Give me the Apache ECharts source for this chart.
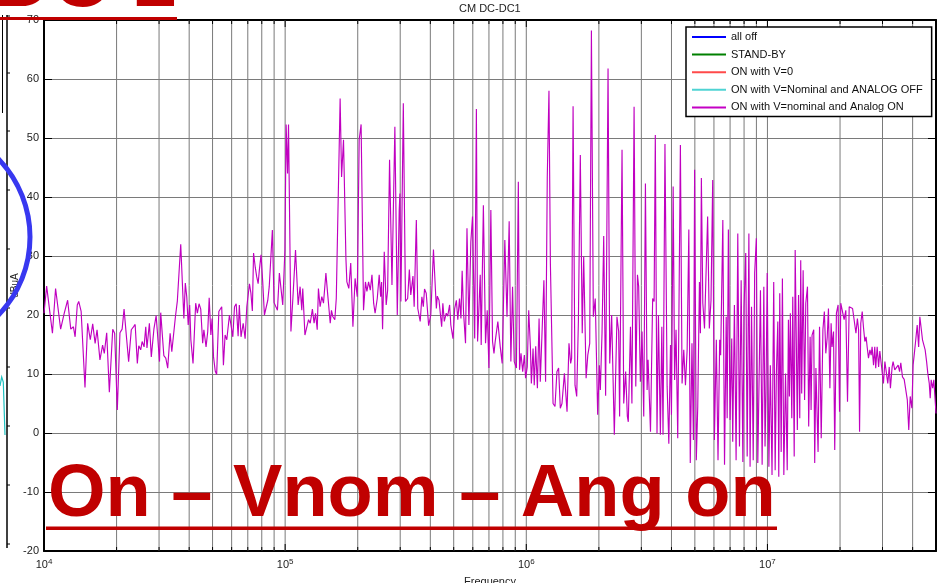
<!DOCTYPE html>
<html><head><meta charset="utf-8">
<script src="https://cdn.jsdelivr.net/npm/echarts@6/dist/echarts.min.js"></script>
<style>html,body{margin:0;padding:0;background:#fff;overflow:hidden}#c{width:947px;height:583px}</style>
</head><body><div id="c"></div>
<script>
const chartTitle = 'CM DC-DC1';
const xAxisName = 'Frequency';
const yAxisName = 'dBuA';
const seriesNames = ['all off', 'STAND-BY', 'ON with V=0', 'ON with V=Nominal and ANALOG OFF', 'ON with V=nominal and Analog ON'];
const seriesColors = ['#0000ff', '#008000', '#ff4a4a', '#4fd3d3', '#c400c4'];
const yMin = -20, yMax = 70, yStep = 10;
const xMin = 1e4, xMax = 5e7;
const xGridFreqs = [2e4,3e4,4e4,5e4,6e4,7e4,8e4,9e4,1e5,2e5,3e5,4e5,5e5,6e5,7e5,8e5,9e5,1e6,2e6,3e6,4e6,5e6,6e6,7e6,8e6,9e6,1e7,2e7,3e7,4e7];
const majorFreqs = [1e5, 1e6, 1e7];
const overlayTop = 'DC 1';
const overlayBottom = 'On \u2013 Vnom \u2013 Ang on';

// log10 of frequency (Hz)
const freqExponent = [
4.000,4.011,4.017,4.035,4.048,4.069,4.084,4.090,4.098,4.104,4.111,4.122,4.129,4.138,4.144,4.154,4.170,4.181,4.187,4.192,
4.202,4.212,4.220,4.232,4.243,4.250,4.260,4.271,4.285,4.293,4.304,4.315,4.324,4.332,4.336,4.343,4.351,4.362,4.371,4.378,
4.387,4.393,4.401,4.407,4.415,4.422,4.427,4.437,4.445,4.456,4.465,4.470,4.479,4.484,4.490,4.497,4.505,4.513,4.523,4.530,
4.537,4.545,4.553,4.560,4.567,4.574,4.580,4.586,4.592,4.598,4.604,4.609,4.618,4.629,4.636,4.643,4.650,4.658,4.663,4.672,
4.679,4.685,4.692,4.697,4.703,4.710,4.716,4.725,4.730,4.737,4.744,4.751,4.758,4.769,4.777,4.783,4.790,4.797,4.805,4.810,
4.817,4.826,4.834,4.841,4.852,4.858,4.864,4.869,4.876,4.882,4.888,4.893,4.900,4.907,4.914,4.921,4.928,4.934,4.941,4.947,
4.954,4.961,4.968,4.976,4.982,4.990,4.999,5.004,5.010,5.014,5.024,5.032,5.043,5.048,5.054,5.062,
5.069,5.073,5.082,5.090,5.097,5.104,5.113,5.120,5.126,5.133,5.138,5.145,5.152,5.159,5.169,5.176,5.187,5.192,5.198,5.206,
5.212,5.217,5.228,5.234,5.242,5.252,5.256,5.264,5.272,5.281,5.290,5.299,5.307,5.315,5.325,5.333,5.339,5.346,5.353,5.360,
5.367,5.373,5.382,5.390,5.396,5.400,5.404,5.411,5.419,5.425,5.433,5.443,5.455,5.465,5.473,5.476,5.480,5.490,5.499,5.508,
5.515,5.521,5.530,5.535,5.544,5.550,5.560,5.567,5.573,5.578,5.585,5.595,5.604,5.615,5.627,5.631,5.638,5.649,5.654,5.660,
5.668,5.674,5.682,5.687,5.696,5.703,5.710,5.716,5.723,5.729,5.734,5.740,5.748,5.754,5.762,5.770,5.777,5.786,5.793,5.798,
5.809,5.813,5.822,5.831,5.838,5.845,5.853,5.860,5.866,5.871,5.877,5.882,5.892,5.900,5.911,5.920,5.929,5.936,5.943,5.950,
5.959,5.967,5.972,5.978,5.985,5.992,5.997,6.004,6.010,6.017,6.021,6.028,6.033,6.039,6.046,6.053,6.058,6.064,6.073,6.080,
6.087,6.094,6.100,6.111,6.119,6.127,6.134,6.141,6.148,6.158,6.169,6.177,6.184,6.188,6.194,6.202,6.209,6.216,6.224,6.232,
6.238,6.248,6.255,6.263,6.270,
6.278,6.286,6.296,6.303,6.307,6.314,6.321,6.329,6.339,6.346,6.354,6.360,6.365,6.376,6.383,6.387,6.397,6.404,6.412,6.419,
6.423,6.432,6.438,6.447,6.454,6.461,6.466,6.473,6.480,6.487,6.494,6.501,6.505,6.515,6.524,6.530,6.535,6.542,6.548,6.556,
6.562,6.567,6.575,6.584,6.591,6.598,6.602,6.609,6.615,6.621,6.628,6.632,6.639,6.646,6.653,6.660,6.667,6.674,6.680,6.687,
6.693,6.698,6.705,6.711,6.718,6.722,6.726,6.732,6.739,6.746,6.752,6.759,6.766,6.773,6.780,6.788,6.795,6.802,6.806,6.815,
6.822,6.829,6.833,6.838,6.845,6.852,6.856,6.863,6.870,6.877,6.884,6.891,6.898,6.903,6.910,6.916,6.923,6.928,6.934,6.941,
6.947,6.954,6.960,
6.971,6.978,6.985,6.990,6.994,6.999,7.006,7.012,7.019,7.026,7.032,7.037,7.043,7.047,7.051,7.057,7.062,7.068,7.075,7.082,
7.087,7.091,7.095,7.101,7.105,7.111,7.115,7.120,7.124,7.129,7.134,7.138,7.142,7.148,7.154,7.159,7.166,7.171,7.177,7.181,
7.185,7.192,7.196,7.201,7.206,7.210,7.216,7.223,7.230,7.236,7.242,7.248,7.253,7.259,7.264,7.268,7.274,7.279,7.286,7.293,
7.299,7.304,7.311,7.318,7.325,7.332,7.339,7.344,7.353,7.361,7.367,7.373,7.378,7.382,7.387,7.393,7.398,7.404,7.409,7.414,
7.419,7.425,7.430,7.434,7.440,7.445,7.449,7.455,7.461,7.466,7.474,7.481,7.487,7.494,7.499,7.505,7.510,7.517,7.521,7.528,
7.535,7.542,7.548,7.553,7.560,7.567,7.574,7.580,7.586,7.592,7.599,7.604,7.610,7.615,7.621,7.627,7.632,7.638,7.643,7.649,
7.654,7.660,7.665,7.671,7.675,7.679,7.685,7.690,7.694,7.699
];
// level in dBuA
const levelDbuA = [
20.3,24.9,24.8,16.9,24.5,17.6,20.3,20.0,22.5,22.5,17.6,18.0,16.3,21.7,22.3,20.6,7.7,18.6,18.5,15.8,
18.5,15.2,17.5,12.4,14.9,13.5,17.0,6.9,17.6,16.9,3.9,17.0,17.6,21.0,21.1,15.8,12.1,17.5,18.0,18.4,
11.8,14.8,14.1,15.5,14.6,18.0,14.4,18.6,12.9,17.7,19.9,17.2,12.1,20.4,20.3,13.1,12.7,11.0,16.9,13.8,
13.9,19.7,22.4,22.4,32.0,32.0,19.4,25.4,23.1,18.3,21.7,15.8,11.8,22.0,20.3,21.9,21.0,15.2,17.5,14.6,
17.2,22.9,16.6,19.4,12.9,10.5,9.9,20.6,20.3,21.4,11.5,16.6,15.8,20.0,19.7,16.3,21.4,21.9,16.4,21.7,
16.3,18.6,16.0,21.4,25.3,23.7,20.7,30.5,28.1,26.5,25.3,27.6,30.2,25.6,20.0,20.0,22.5,24.8,24.7,34.4,
22.1,22.3,20.8,27.1,26.8,21.7,31.0,52.3,44.0,52.3,17.2,22.8,31.0,31.0,21.7,24.8,
20.8,24.5,16.6,18.0,19.2,18.6,21.0,18.6,20.3,17.5,24.5,21.4,23.1,22.0,27.1,23.7,18.6,20.8,19.7,19.2,
22.8,23.1,56.7,43.4,49.7,29.6,25.6,24.5,28.8,18.0,26.2,23.1,49.7,52.3,20.8,25.6,24.0,25.6,24.2,26.8,
22.0,20.3,22.8,26.8,23.1,25.6,17.6,30.7,21.7,24.2,46.3,25.1,51.9,20.0,37.8,40.6,22.3,55.9,22.3,22.8,
27.7,23.4,26.6,21.4,36.1,21.1,18.9,23.1,21.4,24.4,23.7,18.2,20.0,31.1,21.1,23.2,22.5,18.0,22.0,18.9,
20.3,19.8,21.7,18.3,16.0,21.1,22.5,19.2,22.8,19.4,27.5,20.3,15.2,34.7,18.3,32.4,36.7,16.0,54.9,15.5,
26.8,14.9,38.6,15.2,20.8,11.0,37.8,15.5,13.5,15.5,15.5,18.9,14.6,11.8,32.7,19.7,35.9,12.1,24.8,12.1,
11.0,42.6,10.7,13.5,10.4,13.2,9.3,11.2,20.8,14.6,8.4,14.3,8.1,14.7,7.6,19.4,8.7,8.7,25.9,8.7,
43.4,58.0,28.5,5.0,4.5,10.4,11.0,4.2,5.0,10.1,3.6,15.2,11.8,12.7,55.4,8.1,6.2,18.9,47.1,16.9,
29.9,9.3,13.2,15.2,68.2,
19.7,22.8,3.1,11.5,7.3,16.9,33.4,6.3,61.8,11.8,20.0,20.0,-0.3,19.7,17.2,2.8,48.0,5.0,10.4,2.8,
1.9,18.0,5.0,55.3,7.9,26.8,24.8,8.7,17.2,2.8,42.3,7.3,12.4,0.2,22.8,22.3,50.5,-0.1,20.0,-0.3,
18.0,-0.3,49.0,7.9,-1.8,14.9,3.1,41.8,9.0,17.5,-0.9,15.8,48.8,8.4,14.1,8.1,14.1,34.5,-5.1,15.2,
-1.2,44.6,-4.6,4.5,25.6,16.9,43.2,22.0,17.7,18.0,36.7,17.7,22.5,42.9,-1.2,15.8,-4.6,15.8,13.2,36.1,
-5.4,19.7,2.5,34.5,2.2,16.0,-1.5,21.7,-4.6,33.8,-2.3,25.9,-4.9,21.4,30.5,-4.0,33.8,-5.7,21.4,-4.6,
27.1,33.0,-5.1,
24.2,-5.4,24.8,-2.3,7.0,27.1,-5.7,11.5,-7.1,25.6,-6.3,10.1,18.9,-7.4,23.7,-3.2,26.2,-7.1,10.1,-6.3,
19.2,6.2,20.3,2.5,23.1,-4.0,31.0,14.6,0.5,23.4,2.5,29.3,6.7,27.6,5.6,22.0,24.8,1.1,16.3,3.9,
16.6,17.5,-5.1,11.0,10.7,-3.2,18.0,-0.9,17.5,20.6,13.5,16.3,21.1,7.6,18.6,14.6,17.2,-2.9,20.3,21.7,
3.6,22.0,22.0,19.2,20.8,5.3,21.4,21.4,21.1,21.0,16.9,19.4,17.5,0.2,18.6,20.6,18.0,15.5,16.3,14.4,
12.7,14.1,13.2,14.6,11.5,14.6,11.0,14.6,11.2,13.9,13.9,8.4,12.1,12.4,8.4,11.2,7.6,11.2,12.1,10.7,
10.7,11.5,10.4,11.9,9.5,9.1,9.1,5.6,0.5,6.2,4.2,11.5,13.8,15.8,18.3,14.6,19.7,19.4,15.8,16.0,
14.1,12.1,10.1,8.4,5.9,9.0,7.6,9.0,8.7,3.3
];

const FONT = '"Liberation Sans", Arial, Helvetica, sans-serif';
const gridColor = '#7a7a7a';
const measured = freqExponent.map((e, i) => [Math.pow(10, e), levelDbuA[i]]);

function isDecade(v) {
  const l = Math.log10(v);
  return Math.abs(l - Math.round(l)) < 1e-6;
}

const chart = echarts.init(document.getElementById('c'), null, {renderer: 'canvas'});

const series = seriesNames.map((name, i) => ({
  name: name,
  type: 'line',
  data: i === seriesNames.length - 1 ? measured : [],
  showSymbol: false,
  symbol: 'none',
  color: seriesColors[i],
  lineStyle: {width: 1.15, color: i === seriesNames.length - 1 ? '#c000c0' : seriesColors[i]},
  animation: false,
  silent: true,
  z: 3
}));

series.push({
  name: 'xgrid',
  type: 'custom',
  silent: true,
  animation: false,
  z: 1,
  data: xGridFreqs.map(f => [f, 0]),
  renderItem: function (params, api) {
    const f = api.value(0);
    const top = api.coord([f, yMax]);
    const bot = api.coord([f, yMin]);
    const len = majorFreqs.indexOf(f) >= 0 ? 7 : 4;
    return {
      type: 'group',
      children: [
        {type: 'line', shape: {x1: top[0], y1: top[1], x2: bot[0], y2: bot[1]}, style: {stroke: gridColor, lineWidth: 1}},
        {type: 'line', shape: {x1: bot[0], y1: bot[1], x2: bot[0], y2: bot[1] - len}, style: {stroke: '#000', lineWidth: 1}},
        {type: 'line', shape: {x1: top[0], y1: top[1], x2: top[0], y2: top[1] + len}, style: {stroke: '#000', lineWidth: 1}}
      ]
    };
  }
});

const option = {
  backgroundColor: '#fff',
  animation: false,
  title: {
    text: chartTitle, left: 459, top: 3, padding: 0,
    textStyle: {fontFamily: FONT, fontSize: 11, fontWeight: 'normal', color: '#222'}
  },
  legend: {
    data: seriesNames,
    orient: 'vertical',
    left: 686, top: 27,
    padding: [3, 9, 2, 6],
    itemGap: 3.6,
    itemWidth: 34, itemHeight: 2,
    icon: 'rect',
    backgroundColor: '#fff',
    borderColor: '#000', borderWidth: 1.5,
    selectedMode: false,
    textStyle: {fontFamily: FONT, fontSize: 11, color: '#111', lineHeight: 14}
  },
  grid: {left: 44, top: 20, width: 892, height: 531, containLabel: false, outerBoundsMode: 'none'},
  xAxis: [{
    type: 'log', logBase: 10, min: xMin, max: xMax, position: 'bottom',
    name: xAxisName, nameLocation: 'middle', nameGap: 25, nameMoveOverlap: false,
    nameTextStyle: {fontFamily: FONT, fontSize: 11, color: '#222'},
    axisLine: {show: true, onZero: false, lineStyle: {color: '#000', width: 2}},
    axisTick: {show: false},
    splitLine: {show: false},
    minorTick: {show: false},
    axisLabel: {
      show: true, margin: 7, showMaxLabel: false,
      formatter: function (v) { return isDecade(v) ? '10{sup|' + Math.round(Math.log10(v)) + '}' : ''; },
      rich: {
        sup: {fontFamily: FONT, fontSize: 8, color: '#222', verticalAlign: 'top', lineHeight: 14, padding: [0, 0, 6, 0]}
      },
      fontFamily: FONT, fontSize: 11, color: '#222', lineHeight: 14
    }
  }, {
    type: 'log', logBase: 10, min: xMin, max: xMax, position: 'top',
    axisLine: {show: true, onZero: false, lineStyle: {color: '#000', width: 2}},
    axisTick: {show: false}, axisLabel: {show: false}, splitLine: {show: false}
  }],
  yAxis: [{
    type: 'value', min: yMin, max: yMax, interval: yStep, position: 'left',
    name: yAxisName, nameLocation: 'middle', nameGap: 24, nameRotate: 90, nameMoveOverlap: false,
    nameTextStyle: {fontFamily: FONT, fontSize: 10, color: '#222'},
    axisLine: {show: true, onZero: false, lineStyle: {color: '#000', width: 2}},
    axisTick: {show: true, inside: true, length: 8, lineStyle: {color: '#000', width: 1}},
    axisLabel: {fontFamily: FONT, fontSize: 11, color: '#222', margin: 5},
    splitLine: {show: true, lineStyle: {color: gridColor, width: 1}}
  }, {
    type: 'value', min: yMin, max: yMax, interval: yStep, position: 'right',
    axisLine: {show: true, onZero: false, lineStyle: {color: '#000', width: 2}},
    axisTick: {show: true, inside: true, length: 8, lineStyle: {color: '#000', width: 1}},
    axisLabel: {show: false}, splitLine: {show: false}
  }],
  series: series,
  graphic: [
    // fragments of the neighbouring figure on the left
    {type: 'line', z: 50, shape: {x1: 7, y1: 15, x2: 7, y2: 548}, style: {stroke: '#000', lineWidth: 1.5}},
    {type: 'line', z: 50, shape: {x1: 2.5, y1: 15, x2: 2.5, y2: 113}, style: {stroke: '#000', lineWidth: 1}},
    {type: 'polyline', z: 50, shape: {points: [[7,16],[10,16]]}, style: {stroke: '#000', lineWidth: 1}},
    {type: 'polyline', z: 50, shape: {points: [[7,73],[10,73]]}, style: {stroke: '#000', lineWidth: 1}},
    {type: 'polyline', z: 50, shape: {points: [[7,131],[10,131]]}, style: {stroke: '#000', lineWidth: 1}},
    {type: 'polyline', z: 50, shape: {points: [[7,190],[10,190]]}, style: {stroke: '#000', lineWidth: 1}},
    {type: 'polyline', z: 50, shape: {points: [[7,249],[10,249]]}, style: {stroke: '#000', lineWidth: 1}},
    {type: 'polyline', z: 50, shape: {points: [[7,308],[10,308]]}, style: {stroke: '#000', lineWidth: 1}},
    {type: 'polyline', z: 50, shape: {points: [[7,367],[10,367]]}, style: {stroke: '#000', lineWidth: 1}},
    {type: 'polyline', z: 50, shape: {points: [[7,426],[10,426]]}, style: {stroke: '#000', lineWidth: 1}},
    {type: 'polyline', z: 50, shape: {points: [[7,485],[10,485]]}, style: {stroke: '#000', lineWidth: 1}},
    {type: 'polyline', z: 50, shape: {points: [[7,544],[10,544]]}, style: {stroke: '#000', lineWidth: 1}},
    {type: 'polyline', z: 50, shape: {points: [[0,386],[1.7,377],[3.3,382],[5,435]]}, style: {stroke: '#20c0c0', lineWidth: 1.2, fill: null}},
    // hand-drawn annotations
    {type: 'circle', z: 60, shape: {cx: -82.5, cy: 237, r: 112.5}, style: {stroke: '#3838f0', lineWidth: 5, fill: null}},
    {type: 'text', z: 70, x: -6, y: -16, style: {text: overlayTop, font: 'bold 80px ' + FONT, fill: '#c00000', verticalAlign: 'middle'}},
    {type: 'rect', z: 70, shape: {x: 0, y: 17, width: 177, height: 3}, style: {fill: '#c00000'}},
    {type: 'text', z: 70, x: 48, y: 495.5, style: {text: overlayBottom, font: 'bold 74px ' + FONT, fill: '#c00000', verticalAlign: 'middle'}},
    {type: 'rect', z: 70, shape: {x: 46, y: 526.5, width: 731, height: 3.5}, style: {fill: '#c00000'}}
  ]
};

chart.setOption(option);
</script>
</body></html>
